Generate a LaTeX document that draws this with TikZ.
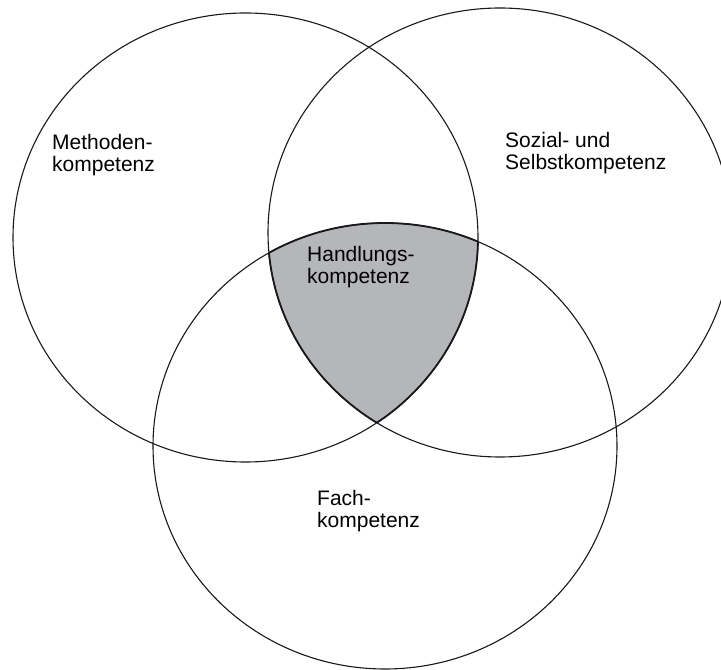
\documentclass[tikz,border=0pt]{standalone}
\usepackage{fontspec}
\setmainfont{Liberation Sans}
\definecolor{shadegray}{RGB}{181,182,186}
\definecolor{linegray}{RGB}{25,25,25}
\begin{document}
\begin{tikzpicture}[x=1pt,y=1pt,
  ring/.style={draw=linegray,line width=1.1pt},
  rim/.style={draw=linegray,line width=1.8pt},
  lbl/.style={anchor=base west,align=left,inner sep=0pt,font=\fontsize{21}{22}\selectfont}]
\useasboundingbox (0,0) rectangle (721,670);
\def\pathL{(245.5,432.5) ellipse [x radius=232.5,y radius=224.5]}
\def\pathR{(500,437.5) ellipse [x radius=232,y radius=224.5]}
\def\pathB{(385,224) ellipse [x radius=232,y radius=223]}
% shaded intersection
\begin{scope}
  \clip \pathL; \clip \pathR;
  \fill[shadegray] \pathB;
  \draw[rim] \pathB;
\end{scope}
\begin{scope}
  \clip \pathL; \clip \pathB;
  \draw[rim] \pathR;
\end{scope}
\begin{scope}
  \clip \pathR; \clip \pathB;
  \draw[rim] \pathL;
\end{scope}
% circles
\draw[ring] \pathL;
\draw[ring] \pathR;
\draw[ring] \pathB;
% labels
\node[lbl] (meth) at (52,498) {Methoden-\\kompetenz};
\node[lbl] (soz) at (505,500) {Sozial- und\\Selbstkompetenz};
\node[lbl] (hand) at (307,386) {Handlungs-\\kompetenz};
\node[lbl] (fach) at (317,142) {Fach-\\kompetenz};
\end{tikzpicture}
\end{document}
